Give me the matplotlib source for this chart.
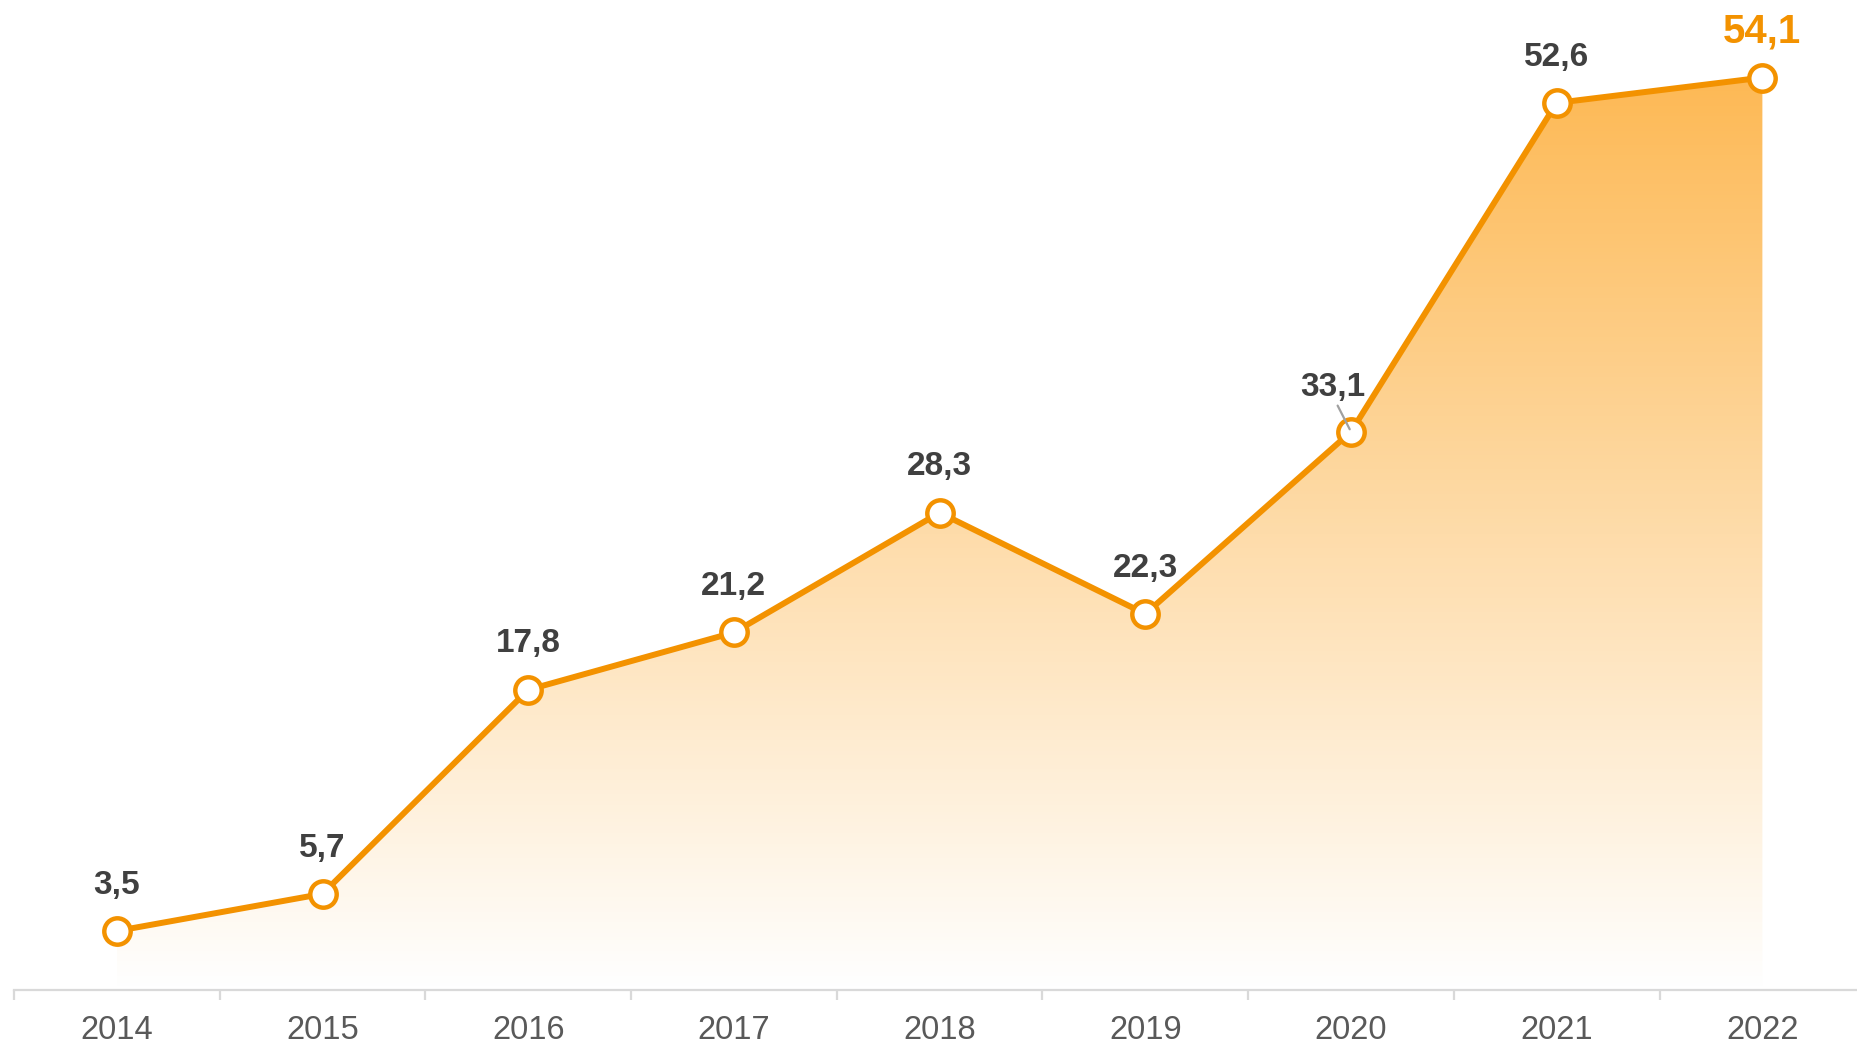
import numpy as np
import matplotlib.pyplot as plt
from matplotlib.colors import LinearSegmentedColormap

anos = [2014, 2015, 2016, 2017, 2018, 2019, 2020, 2021, 2022]
valores = [3.5, 5.7, 17.8, 21.2, 28.3, 22.3, 33.1, 52.6, 54.1]
rotulos = ['3,5', '5,7', '17,8', '21,2', '28,3', '22,3', '33,1', '52,6', '54,1']

laranja = '#F39200'
cinza_texto = '#404040'

plt.rcParams['font.family'] = ['Liberation Sans', 'DejaVu Sans']

fig = plt.figure(figsize=(18.57, 10.49), dpi=100)
ax = fig.add_axes([14 / 1857, 59 / 1049, 1 - 14 / 1857, 1 - 59 / 1049])

ax.set_xlim(2013.5, 2022.46)
ax.set_ylim(0, 58.7)

# preenchimento em degradê, recortado pela área sob a linha
area = ax.fill_between(anos, valores, 0, color='none', lw=0)
cmap = LinearSegmentedColormap.from_list('grad', ['#FFFFFF', '#FDB955'])
grad = np.linspace(0, 1, 256).reshape(-1, 1)
img = ax.imshow(grad, cmap=cmap, aspect='auto', origin='lower',
                extent=[anos[0], anos[-1], 0, max(valores)], zorder=1,
                vmin=0, vmax=1)
img.set_clip_path(area.get_paths()[0], transform=ax.transData)

ax.plot(anos, valores, color=laranja, lw=4.3, zorder=3,
        marker='o', markersize=19, markerfacecolor='white',
        markeredgecolor=laranja, markeredgewidth=3.2)

for i, (x, y, r) in enumerate(zip(anos, valores, rotulos)):
    if i == len(anos) - 1:
        ax.annotate(r, (x, y), xytext=(0, 33), textcoords='offset points',
                    ha='center', va='center', fontsize=29, fontweight='bold',
                    color=laranja, zorder=4)
    elif r == '33,1':
        ax.annotate(r, (x, y), xytext=(-13, 32), textcoords='offset points',
                    ha='center', va='center', fontsize=24, fontweight='bold',
                    color=cinza_texto, zorder=5,
                    arrowprops=dict(arrowstyle='-', color='#A0A0A0', lw=1.6,
                                    shrinkA=0, shrinkB=2,
                                    relpos=(0.55, 0.0)))
    else:
        ax.annotate(r, (x, y), xytext=(0, 33), textcoords='offset points',
                    ha='center', va='center', fontsize=24, fontweight='bold',
                    color=cinza_texto, zorder=4)

for lado in ['top', 'right', 'left']:
    ax.spines[lado].set_visible(False)
ax.spines['bottom'].set_color('#D9D9D9')
ax.spines['bottom'].set_linewidth(1.6)

ax.set_yticks([])
ax.set_xticks(anos)
ax.set_xticklabels([str(a) for a in anos], fontsize=23.5, color='#595959')
ax.tick_params(axis='x', length=0, pad=18)
ax.set_xticks([a - 0.5 for a in anos], minor=True)
ax.tick_params(axis='x', which='minor', length=7, width=1.6, color='#D9D9D9')

fig.savefig('out.png', dpi=100)
